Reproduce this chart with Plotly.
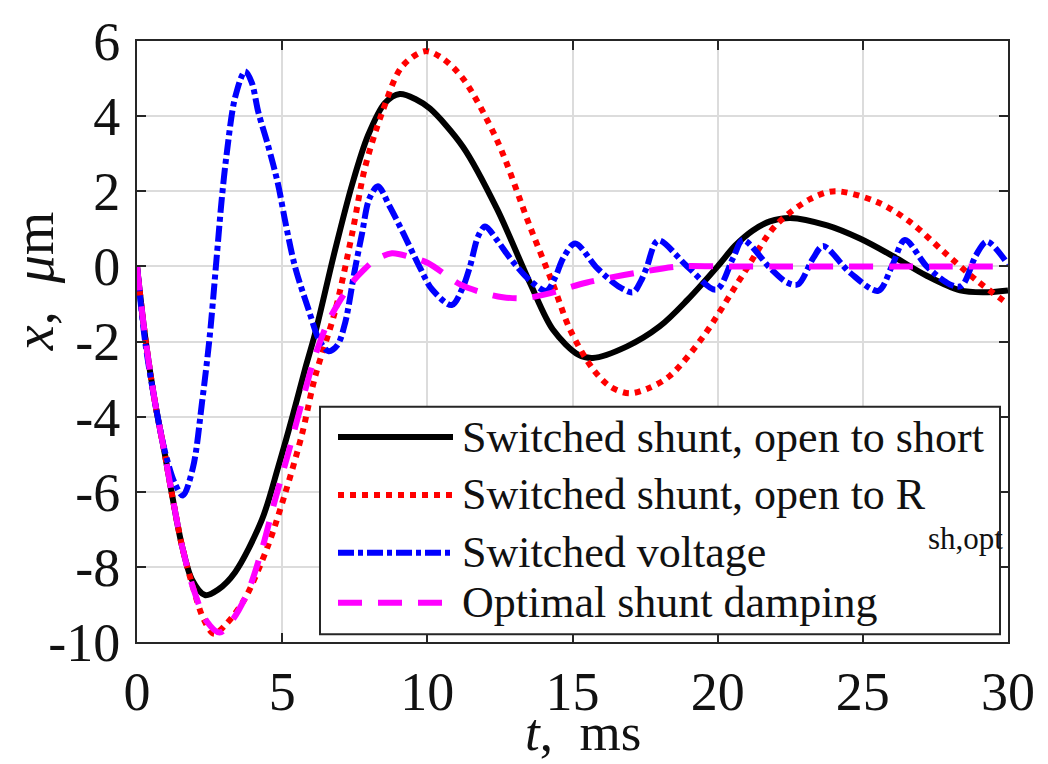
import plotly.graph_objects as go

# ---------------- data ----------------
t_short = [0, 0.28, 0.62, 0.96, 1.2, 1.55, 1.9, 2.34, 2.8, 3.38, 4.3, 4.86, 5.34, 5.79,
           6.13, 6.82, 7.41, 7.96, 8.54, 9.05, 9.6, 10.09, 11.23, 12.4, 13.54, 14.33,
           15.2, 15.7, 16.88, 18.0, 18.95, 20.0, 20.6, 21.2, 21.8, 22.5, 23.77, 24.9, 26.04,
           27.2, 28.35, 29.15, 30]
x_short = [0, -1.87, -3.62, -5.0, -6.05, -7.44, -8.35, -8.75, -8.6, -8.14, -6.75, -5.35,
           -4.04, -2.73, -1.8, 0.43, 2.18, 3.49, 4.35, 4.59, 4.45, 4.2, 3.18, 1.53, -0.45,
           -1.69, -2.35, -2.44, -2.13, -1.6, -0.9, 0.0, 0.55, 0.95, 1.2, 1.29, 1.09, 0.74,
           0.27, -0.25, -0.64, -0.69, -0.64]

t_ropt = [0, 0.28, 0.62, 0.96, 1.2, 1.55, 1.95, 2.3, 2.65, 3.1, 3.72, 4.51, 5.1, 5.68,
          6.13, 6.82, 7.41, 7.85, 8.44, 9.13, 9.92, 10.5, 11.23, 12.4, 13.54, 14.33, 14.92,
          15.7, 16.3, 16.95, 17.6, 18.36, 19.5, 20.87, 22.0, 23.18, 24.04, 25.5, 26.63,
          27.77, 28.93, 30]
x_ropt = [0, -1.87, -3.62, -5.0, -6.05, -7.44, -8.6, -9.4, -9.78, -9.5, -8.84, -7.44,
          -6.05, -4.48, -2.95, -1.2, 0.87, 2.62, 4.09, 5.32, 5.73, 5.55, 5.0, 3.36, 1.05,
          -0.48, -1.69, -2.73, -3.2, -3.38, -3.25, -2.91, -1.87, -0.22, 1.09, 1.79, 2.0,
          1.71, 1.18, 0.4, -0.38, -1.0]

t_volt = [0, 0.28, 0.62, 0.96, 1.31, 1.58, 1.93, 2.24, 2.5, 2.74, 2.92, 3.09, 3.38, 3.72,
          3.95, 4.18, 4.51, 4.86, 5.1, 5.44, 5.9, 6.3, 6.6, 6.9, 7.17, 7.5, 7.75, 8.0, 8.3,
          8.7, 9.13, 9.75, 10.16, 10.84, 11.2, 11.47, 11.75, 11.99, 12.4, 12.85, 13.54,
          14.1, 14.4, 14.68, 15.09, 15.84, 16.64, 17.09, 17.35, 17.55, 17.95, 18.95, 19.95,
          20.53, 20.87, 21.8, 22.39, 22.77, 23.29, 23.63, 24.56, 25.53, 26.0, 26.45, 27.2,
          28.0, 28.4, 28.9, 29.27, 30]
x_volt = [0, -2.0, -3.62, -4.92, -5.79, -6.1, -5.35, -3.62, -1.9, 0.2, 1.8, 3.0, 4.5, 5.19,
          4.9, 4.1, 3.23, 2.18, 1.22, 0.0, -1.13, -2.0, -2.26, -2.1, -1.5, -0.1, 0.87, 1.8,
          2.13, 1.6, 0.95, -0.04, -0.61, -1.03, -0.6, 0.0, 0.8, 1.06, 0.7, 0.22, -0.38,
          -0.65, -0.3, 0.22, 0.61, -0.04, -0.56, -0.69, -0.4, -0.04, 0.69, 0.0, -0.62,
          0.22, 0.7, -0.04, -0.43, -0.48, 0.22, 0.54, -0.17, -0.65, 0.0, 0.7, 0.0,
          -0.48, -0.52, 0.3, 0.66, 0.05]

t_opt = [0, 0.28, 0.62, 0.96, 1.2, 1.55, 1.95, 2.4, 2.85, 3.3, 3.82, 4.3, 4.75, 5.2, 5.68,
         6.13, 6.58, 7.0, 7.41, 7.8, 8.2, 8.78, 9.4, 10.02, 11.13, 12.0, 12.6, 13.3, 14.1,
         15.5, 17.22, 18.7, 20, 22, 24, 26, 28, 30]
x_opt = [0, -1.87, -3.62, -5.0, -6.05, -7.44, -8.6, -9.45, -9.75, -9.4, -8.66, -7.54,
         -6.23, -5.0, -3.62, -2.39, -1.48, -0.9, -0.43, -0.1, 0.17, 0.35, 0.25, 0.09,
         -0.48, -0.72, -0.82, -0.85, -0.74, -0.43, -0.17, 0.0, 0.0, 0.0, 0.0, 0.0, 0.0, 0.0]

series_names = ["Switched shunt, open to short",
                "Switched shunt, open to R",
                "Switched voltage",
                "Optimal shunt damping"]
subscript_text = "sh,opt"

x_ticks = [0, 5, 10, 15, 20, 25, 30]
x_ticktext = ["0", "5", "10", "15", "20", "25", "30"]
y_ticks = [-10, -8, -6, -4, -2, 0, 2, 4, 6]
y_ticktext = ["-10", "-8", "-6", "-4", "-2", "0", "2", "4", "6"]

# ---------------- layout helpers ----------------
W, H = 1048, 764
ML, MR, MT, MB = 137, 40, 29, 122
PW, PH = W - ML - MR, H - MT - MB
FONT = "Liberation Serif"
AXC = "#262626"
TXT = "#111111"


def pxx(x):
    return (x - ML) / PW


def pxy(y):
    return (H - MB - y) / PH


styles = [
    dict(color="#000000", width=6, dash="solid"),
    dict(color="#ff0000", width=6, dash="dot"),
    dict(color="#0000ff", width=6, dash="16px,4px,5px,4px"),
    dict(color="#ff00ff", width=6, dash="24px,16px"),
]
data = [(t_short, x_short), (t_ropt, x_ropt), (t_volt, x_volt), (t_opt, x_opt)]

fig = go.Figure()
for (tt, xx), st, nm in zip(data, styles, series_names):
    fig.add_trace(go.Scatter(x=tt, y=xx, mode="lines", name=nm,
                             line=dict(color=st["color"], width=st["width"],
                                       dash=st["dash"], shape="spline", smoothing=0.9),
                             showlegend=False))

axis_common = dict(showline=True, linecolor=AXC, linewidth=2, mirror="ticks",
                   ticks="inside", ticklen=9, tickwidth=1.5, tickcolor=AXC,
                   showgrid=True, gridcolor="#dcdcdc", gridwidth=1.5,
                   zeroline=False, ticklabeloverflow="allow",
                   tickfont=dict(family=FONT, size=54, color=TXT))

fig.update_xaxes(range=[0, 30.0001], tickvals=x_ticks, ticktext=x_ticktext,
                 ticklabelstandoff=1, **axis_common)
fig.update_yaxes(range=[-10.0001, 6.0001], tickvals=y_ticks, ticktext=y_ticktext,
                 ticklabelstandoff=4, **axis_common)

# ---------------- legend (drawn by hand to match sample lengths) ----------------
shapes = [dict(type="rect", xref="paper", yref="paper",
               x0=pxx(320), x1=pxx(1000), y0=pxy(634), y1=pxy(402),
               fillcolor="white", line=dict(color=AXC, width=2), layer="above")]
row_y = [433, 492, 551, 602]
for st, ry in zip(styles, row_y):
    shapes.append(dict(type="line", xref="paper", yref="paper",
                       x0=pxx(338), x1=pxx(453), y0=pxy(ry), y1=pxy(ry),
                       line=dict(color=st["color"], width=st["width"], dash=st["dash"])))

annotations = []
for nm, ry in zip(series_names, row_y):
    annotations.append(dict(text=nm, xref="paper", yref="paper", x=pxx(460), y=pxy(ry),
                            xanchor="left", yanchor="middle", showarrow=False,
                            font=dict(family=FONT, size=44, color=TXT)))
annotations.append(dict(text=subscript_text, xref="paper", yref="paper",
                        x=pxx(926), y=pxy(536), xanchor="left", yanchor="middle",
                        showarrow=False, font=dict(family=FONT, size=31, color=TXT)))

# axis titles
annotations.append(dict(text="<i>t</i>,\u00a0 ms", xref="paper", yref="paper",
                        x=pxx(583), y=pxy(734), xanchor="center", yanchor="middle",
                        showarrow=False, font=dict(family=FONT, size=53, color=TXT)))
annotations.append(dict(text="<i>x</i>,\u00a0 <i>\u03bc</i>m", xref="paper", yref="paper",
                        x=pxx(34), y=pxy(274), xanchor="center", yanchor="middle",
                        textangle=-90, showarrow=False,
                        font=dict(family=FONT, size=56, color=TXT)))

fig.update_layout(width=W, height=H, margin=dict(l=ML, r=MR, t=MT, b=MB),
                  plot_bgcolor="white", paper_bgcolor="white",
                  shapes=shapes, annotations=annotations, showlegend=False)

fig.write_html("out.html", config={"displayModeBar": False},
               post_script="document.body.style.margin='0';document.body.style.padding='0';")
